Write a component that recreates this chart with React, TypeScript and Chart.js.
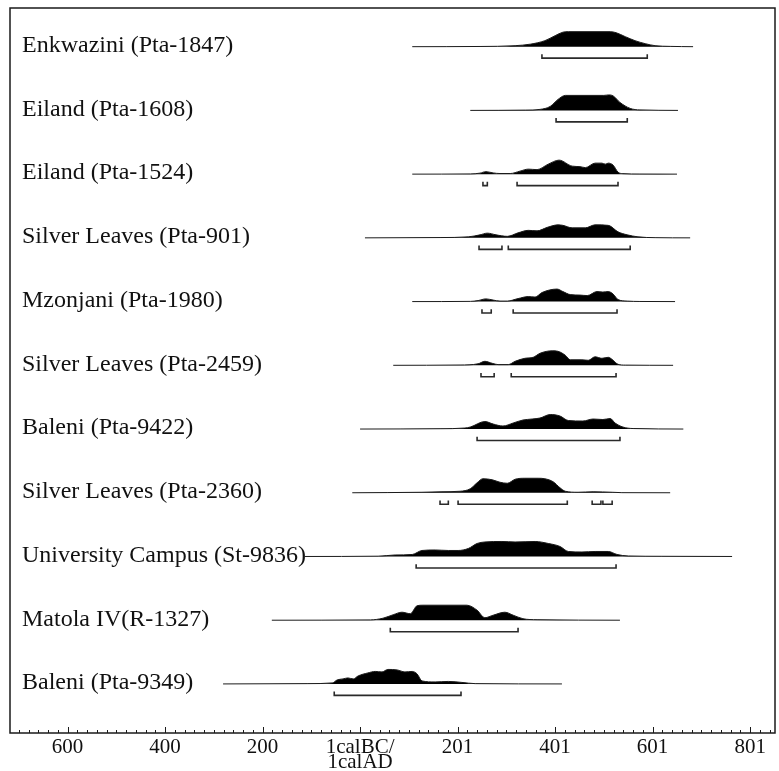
import React, { useEffect, useRef } from "react";
import { Chart, registerables } from "chart.js";

Chart.register(...registerables);

// Sample names (top to bottom)
const sampleLabels = [
  "Enkwazini (Pta-1847)",
  "Eiland (Pta-1608)",
  "Eiland (Pta-1524)",
  "Silver Leaves (Pta-901)",
  "Mzonjani (Pta-1980)",
  "Silver Leaves (Pta-2459)",
  "Baleni (Pta-9422)",
  "Silver Leaves (Pta-2360)",
  "University Campus (St-9836)",
  "Matola IV(R-1327)",
  "Baleni (Pta-9349)",
];

// x axis: calendar year (BC negative), tick labels as printed
const yearTicks = [-600, -400, -200, 0, 200, 400, 600, 800];
const yearTickLabels: (string | string[])[] = ["600", "400", "200", ["1calBC/", "1calAD"], "201", "401", "601", "801"];

// Probability distributions: [year, relative probability]
const enkwazini1847 = [[107, 0], [246, 0.2], [318, 1], [349, 2.5], [379, 6], [400, 11], [416, 14.5], [427, 15], [513, 15], [525, 14], [544, 10], [564, 6], [585, 3], [605, 1], [636, 0.3], [683, 0]];
const eiland1608 = [[226, 0], [340, 0.3], [369, 1], [390, 4], [406, 11], [421, 15], [500, 15], [510, 15.5], [519, 14.5], [533, 8], [554, 2], [574, 0.5], [652, 0]];
const eiland1524 = [[107, 0], [226, 0.2], [246, 1], [258, 2.5], [273, 1.2], [287, 0.6], [308, 0.6], [328, 3], [345, 5], [363, 4.5], [386, 10], [408, 14], [435, 8], [451, 7.5], [462, 6.5], [482, 11], [496, 11], [503, 10], [509, 11], [519, 9], [529, 2], [539, 0.5], [574, 0.1], [650, 0]];
const silverLeaves901 = [[10, 0], [164, 0.3], [222, 1], [246, 3], [261, 4.7], [279, 3], [302, 1.5], [324, 5], [345, 7.5], [363, 7], [384, 10.5], [406, 13], [416, 12.5], [435, 10], [462, 10], [482, 13], [509, 12.5], [529, 6], [548, 3], [570, 1], [605, 0.2], [677, 0]];
const mzonjani1980 = [[107, 0], [226, 0.2], [242, 1], [258, 2.7], [273, 1.5], [287, 0.5], [302, 0.5], [324, 3], [345, 5], [359, 4.5], [373, 9], [404, 12.5], [416, 10], [431, 7], [451, 6.5], [466, 6], [486, 10], [498, 9.5], [509, 10], [519, 7.5], [529, 2], [548, 0.5], [574, 0.1], [646, 0]];
const silverLeaves2459 = [[68, 0], [205, 0.3], [242, 1.5], [256, 4], [271, 2], [283, 0.7], [304, 0.7], [318, 4], [338, 7], [355, 8], [369, 12], [394, 14.5], [406, 14], [421, 10], [431, 5.5], [455, 5.5], [468, 5], [482, 8.5], [496, 7], [509, 8], [519, 5], [529, 1], [544, 0.2], [642, 0]];
const baleni9422 = [[0, 0], [164, 0.3], [215, 1], [226, 2], [256, 7.5], [273, 5], [293, 3], [314, 6], [334, 9], [353, 10], [369, 11], [390, 14.5], [410, 13], [427, 8.5], [457, 8], [478, 10], [498, 9.5], [513, 10.5], [523, 6], [539, 2], [560, 0.5], [663, 0]];
const silverLeaves2360 = [[-16, 0], [127, 0.5], [168, 1], [205, 1.5], [226, 4], [240, 10], [252, 14], [271, 13], [287, 10.5], [302, 9.5], [318, 13.5], [338, 14.5], [365, 14.5], [379, 14], [396, 11], [410, 5], [421, 1.5], [447, 0.5], [478, 1], [517, 0.5], [537, 0.1], [636, 0]];
const universityCampus9836 = [[-113, 0], [37, 0.3], [72, 1.5], [107, 2], [127, 6], [154, 6.5], [181, 6], [201, 6], [222, 8], [240, 13], [256, 14.5], [291, 15], [318, 14.5], [359, 15], [386, 13], [410, 10], [427, 5], [455, 4.5], [482, 5], [509, 5], [527, 2], [550, 0.5], [619, 0.2], [763, 0]];
const matola1327 = [[-181, 0], [21, 0.3], [47, 2], [68, 5.5], [86, 8], [103, 6.5], [117, 14.5], [129, 15], [219, 15], [240, 10], [256, 2.5], [273, 5], [297, 8], [314, 5], [334, 1.5], [363, 0.5], [533, 0]];
const baleni9349 = [[-281, 0], [-107, 0.3], [-57, 1], [-47, 4], [-35, 5], [-25, 6], [-14, 5], [-4, 8], [16, 11], [31, 12.5], [45, 12], [57, 14.5], [76, 14], [92, 12], [107, 12.5], [117, 10], [127, 3], [154, 2], [181, 2.5], [209, 1.5], [236, 0.3], [414, 0]];

// 95% ranges: [from, to]
const enkwazini1847Range = [[373, 589]];
const eiland1608Range = [[402, 548]];
const eiland1524Range = [[252, 261], [322, 529]];
const silverLeaves901Range = [[244, 291], [304, 554]];
const mzonjani1980Range = [[250, 269], [314, 527]];
const silverLeaves2459Range = [[248, 275], [310, 525]];
const baleni9422Range = [[240, 533]];
const silverLeaves2360Range = [[164, 181], [201, 425], [476, 494], [498, 517]];
const universityCampus9836Range = [[115, 525]];
const matola1327Range = [[62, 324]];
const baleni9349Range = [[-53, 207]];

const distributions = [enkwazini1847, eiland1608, eiland1524, silverLeaves901, mzonjani1980, silverLeaves2459, baleni9422, silverLeaves2360, universityCampus9836, matola1327, baleni9349];
const ranges = [enkwazini1847Range, eiland1608Range, eiland1524Range, silverLeaves901Range, mzonjani1980Range, silverLeaves2459Range, baleni9422Range, silverLeaves2360Range, universityCampus9836Range, matola1327Range, baleni9349Range];

const PROB_SCALE = 1 / 63.7; // row units per probability unit
const RANGE_OFFSET = 0.18;
const RANGE_TICK = 0.06;

function buildDatasets() {
  const ds: any[] = [];
  distributions.forEach((d, i) => {
    ds.push({
      data: d.map(([x, p]) => ({ x, y: i - p * PROB_SCALE })),
      borderColor: "#1a1a1a",
      borderWidth: 1,
      backgroundColor: "#000000",
      fill: { value: i },
      pointRadius: 0,
      cubicInterpolationMode: "monotone",
    });
  });
  ranges.forEach((r, i) => {
    const pts: any[] = [];
    r.forEach(([a, b]) => {
      pts.push({ x: a, y: i + RANGE_OFFSET - RANGE_TICK });
      pts.push({ x: a, y: i + RANGE_OFFSET });
      pts.push({ x: b, y: i + RANGE_OFFSET });
      pts.push({ x: b, y: i + RANGE_OFFSET - RANGE_TICK });
      pts.push({ x: b, y: null });
    });
    ds.push({
      data: pts,
      borderColor: "#2a2a2a",
      borderWidth: 1.6,
      pointRadius: 0,
      fill: false,
      spanGaps: false,
      tension: 0,
    });
  });
  return ds;
}

const overlay = {
  id: "overlay",
  afterDraw(chart: any) {
    const { ctx, chartArea: a, scales } = chart;
    const x = scales.x;
    const y = scales.y;
    ctx.save();
    ctx.strokeStyle = "#1a1a1a";
    ctx.lineWidth = 1.5;
    ctx.strokeRect(a.left, a.top, a.right - a.left, a.bottom - a.top);
    ctx.lineWidth = 1;
    ctx.beginPath();
    for (let v = -700; v <= 840; v += 20) {
      const px = Math.round(x.getPixelForValue(v)) + 0.5;
      if (px < a.left || px > a.right) continue;
      const len = v % 200 === 0 ? 6 : 3;
      ctx.moveTo(px, a.bottom);
      ctx.lineTo(px, a.bottom - len);
    }
    ctx.stroke();
    ctx.font = '24px "Liberation Serif"';
    ctx.fillStyle = "#111";
    ctx.textBaseline = "middle";
    ctx.textAlign = "left";
    sampleLabels.forEach((t, i) => {
      ctx.fillText(t, a.left + 12, y.getPixelForValue(i) - 1);
    });
    ctx.restore();
  },
};

export default function App() {
  const ref = useRef<HTMLCanvasElement>(null);
  useEffect(() => {
    document.body.style.margin = "0";
    const chart = new Chart(ref.current!, {
      type: "line",
      data: { datasets: buildDatasets() },
      options: {
        animation: false,
        responsive: false,
        layout: { padding: { left: 10, right: 4, top: 8, bottom: 0 } },
        plugins: { legend: { display: false }, tooltip: { enabled: false } },
        scales: {
          x: {
            type: "linear",
            min: -718,
            max: 851,
            grid: { display: false, drawTicks: false },
            border: { display: false },
            afterBuildTicks: (scale: any) => {
              scale.ticks = yearTicks.map((v) => ({ value: v }));
            },
            afterFit: (scale: any) => {
              scale.height = 38;
            },
            ticks: {
              autoSkip: false,
              maxRotation: 0,
              padding: 7,
              color: "#111",
              font: { family: "Liberation Serif", size: 21, lineHeight: 0.7 },
              callback: (v: any) => {
                const idx = yearTicks.indexOf(Number(v));
                return idx >= 0 ? yearTickLabels[idx] : "";
              },
            },
          },
          y: {
            type: "linear",
            display: false,
            reverse: true,
            min: -0.607,
            max: 10.77,
          },
        },
      },
      plugins: [overlay],
    });
    return () => chart.destroy();
  }, []);
  return <canvas ref={ref} width={779} height={771} style={{ display: "block" }} />;
}
